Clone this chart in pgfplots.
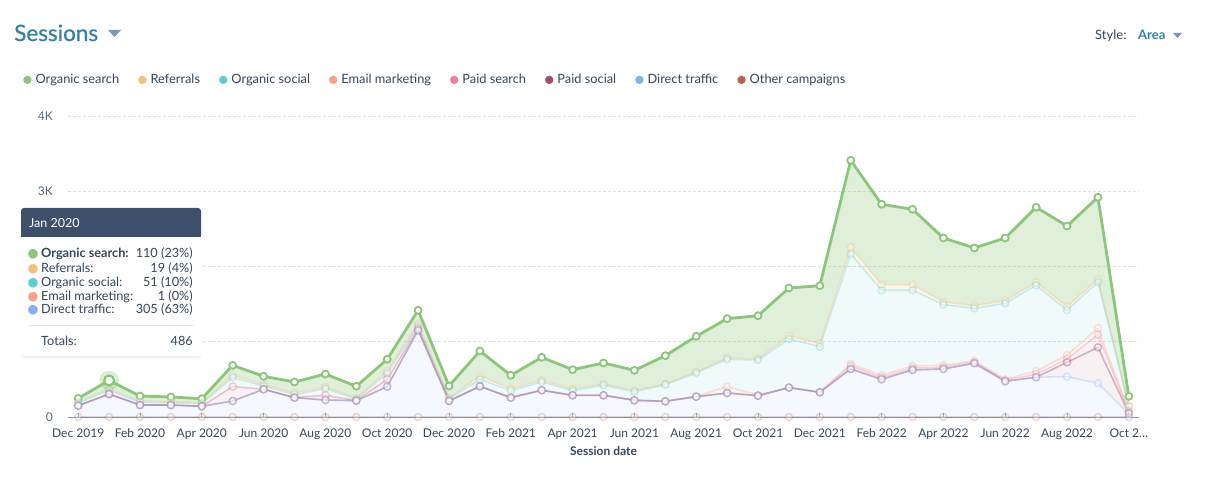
\documentclass[border=0pt]{standalone}
\usepackage{pgfplots}
\pgfplotsset{compat=1.18}
\usepackage{pgfplotstable}
\usepackage{fontspec}
\setmainfont{Lato}
\newfontfamily\dejavu{DejaVu Sans}
\newfontfamily\titlefont[FakeBold=0.6]{Lato}
\usetikzlibrary{shadows}

\definecolor{cOrg}{HTML}{8CC67A}
\definecolor{cRef}{HTML}{F2C27C}
\definecolor{cOSoc}{HTML}{5FCBD3}
\definecolor{cEmail}{HTML}{F4A287}
\definecolor{cPSea}{HTML}{E384A6}
\definecolor{cPSoc}{HTML}{9E4E6E}
\definecolor{cDirect}{HTML}{82B1F6}
\definecolor{cOther}{HTML}{B56551}
\definecolor{cText}{HTML}{33475B}
\definecolor{cTitle}{HTML}{2F81A6}
\definecolor{cAxis}{HTML}{7C98B6}
\definecolor{cGrid}{HTML}{DADFE8}
\definecolor{cHead}{HTML}{3E4F6B}

\pgfplotstableread{
x other direct psoc psea email osoc ref org
0  0 150 0 0 1 34 12 51
1  0 305 0 0 1 51 19 110
2  0 159 0 0 1 35 15 69
3  0 159 0 0 1 30 15 61
4  0 142 0 0 1 32 15 53
5  0 213 0 190 2 122 31 129
6  0 368 0 0 2 40 20 111
7  0 257 0 0 3 40 20 145
8  0 226 0 62 2 86 24 171
9  0 217 0 0 3 20 15 153
10 0 403 0 98 2 78 29 157
11 0 1152 0 27 2 34 25 178
12 0 213 0 0 2 25 15 157
13 0 408 0 0 2 91 44 332
14 0 257 0 0 3 90 25 179
15 0 355 0 0 3 107 25 303
16 0 288 0 0 2 60 20 259
17 0 288 0 0 2 131 19 278
18 0 222 0 0 2 112 14 270
19 0 209 0 0 2 218 11 375
20 0 270 0 0 5 310 15 472
21 0 319 0 0 84 364 18 522
22 0 283 0 0 7 467 18 571
23 0 390 0 0 5 642 40 637
24 0 328 0 0 4 602 45 766
25 0 638 0 42 24 1462 89 1156
26 0 501 0 25 28 1130 74 1069
27 0 625 0 25 28 1006 74 1002
28 0 638 0 25 24 806 35 851
29 0 714 0 17 17 696 35 767
30 0 474 0 14 13 1010 35 833
31 0 528 0 40 43 1139 40 997
32 0 536 191 44 53 594 48 1072
33 0 448 478 168 85 615 36 1090
34 0 40 10 20 14 53 13 125
}\data

\pgfplotsset{
  base/.style={
    at={(68pt,60pt)}, anchor=south west,
    scale only axis, width=1071pt, height=301pt,
    xmin=-0.33, xmax=34.33, ymin=0, ymax=4000,
  },
  lns/.style={mark=*, mark size=3.5pt, line width=1.6pt,
    mark options={fill=white, line width=1.5pt, solid}},
}

\begin{document}
\begin{tikzpicture}
\path[use as bounding box] (0,0) rectangle (1218pt,477pt);

% ---------- areas, axes, legend ----------
\begin{axis}[base,
  stack plots=y,
  axis x line*=bottom, axis y line*=left,
  y axis line style={draw=none},
  x axis line style={cAxis, line width=1pt},
  xtick={0,2,...,34},
  xticklabels={Dec 2019,Feb 2020,Apr 2020,Jun 2020,Aug 2020,Oct 2020,Dec 2020,Feb 2021,Apr 2021,Jun 2021,Aug 2021,Oct 2021,Dec 2021,Feb 2022,Apr 2022,Jun 2022,Aug 2022,Oct 2…},
  ytick={0,1000,2000,3000,4000},
  yticklabels={0,,,3K,4K},
  /pgf/number format/assume math mode=true,
  tick align=inside,
  major tick length=4pt,
  xtick style={cAxis, line width=0.8pt},
  ytick style={draw=none},
  ymajorgrids,
  major grid style={cGrid, dash pattern=on 3pt off 2pt, line width=0.8pt},
  xticklabel style={font=\fontsize{12}{14}\selectfont, text=cText, inner sep=0pt, anchor=base, yshift=-20.5pt},
  yticklabel style={font=\fontsize{12}{14}\selectfont, text=cAxis!70!black, inner sep=0pt, anchor=east, xshift=-15pt},
  xlabel={\bfseries Session date},
  xlabel style={font=\fontsize{12}{14}\selectfont, text=cText, at={(axis description cs:0.5,0)}, anchor=base, inner sep=0pt, yshift=-38.5pt},
  legend image code/.code={\fill[#1] (4pt,0pt) circle (4.2pt);},
  legend style={draw=none, fill=none, legend columns=-1, at={(-0.042,1.12)}, anchor=west,
    inner sep=0pt, row sep=0pt,
    nodes={inner sep=0pt, text=cText, font=\fontsize{12.8}{15}\selectfont},
    /tikz/every odd column/.append style={column sep=4pt},
    /tikz/every even column/.append style={column sep=19pt}},
]
\addlegendimage{draw=none, fill=cOrg}\addlegendentry{Organic search}
\addlegendimage{draw=none, fill=cRef}\addlegendentry{Referrals}
\addlegendimage{draw=none, fill=cOSoc}\addlegendentry{Organic social}
\addlegendimage{draw=none, fill=cEmail}\addlegendentry{Email marketing}
\addlegendimage{draw=none, fill=cPSea}\addlegendentry{Paid search}
\addlegendimage{draw=none, fill=cPSoc}\addlegendentry{Paid social}
\addlegendimage{draw=none, fill=cDirect}\addlegendentry{Direct traffic}
\addlegendimage{draw=none, fill=cOther}\addlegendentry{Other campaigns}

\addplot[draw=none, fill=cDirect, fill opacity=0.08, forget plot] table[x=x,y=direct]{\data} \closedcycle;
\addplot[draw=none, fill=cPSoc, fill opacity=0.08, forget plot] table[x=x,y=psoc]{\data} \closedcycle;
\addplot[draw=none, fill=cPSea, fill opacity=0.10, forget plot] table[x=x,y=psea]{\data} \closedcycle;
\addplot[draw=none, fill=cEmail, fill opacity=0.10, forget plot] table[x=x,y=email]{\data} \closedcycle;
\addplot[draw=none, fill=cOSoc, fill opacity=0.09, forget plot] table[x=x,y=osoc]{\data} \closedcycle;
\addplot[draw=none, fill=cRef, fill opacity=0.15, forget plot] table[x=x,y=ref]{\data} \closedcycle;
\addplot[draw=none, fill=cOrg, fill opacity=0.28, forget plot] table[x=x,y=org]{\data} \closedcycle;
\end{axis}

% ---------- lines and markers ----------
\begin{axis}[base, stack plots=y, hide axis, clip=false]
\addplot[lns, cOther, opacity=0.25] table[x=x,y=other]{\data};
\addplot[lns, cDirect, opacity=0.3] table[x=x,y=direct]{\data};
\addplot[lns, cPSoc, opacity=0.4] table[x=x,y=psoc]{\data};
\addplot[lns, cPSea, opacity=0.3] table[x=x,y=psea]{\data};
\addplot[lns, cEmail, opacity=0.3] table[x=x,y=email]{\data};
\addplot[lns, cOSoc, opacity=0.3] table[x=x,y=osoc]{\data};
\addplot[lns, cRef, opacity=0.35] table[x=x,y=ref]{\data};
\addplot[lns, cOrg, line width=2.8pt, mark options={fill=white, line width=1.8pt, solid}] table[x=x,y=org]{\data};
\end{axis}

% ---------- hovered point ----------
\begin{axis}[base, hide axis, clip=false]
\addplot[only marks, mark=*, mark size=9.5pt, cOrg, opacity=0.3, mark options={draw=none}] coordinates {(1,486)};
\addplot[only marks, mark=*, mark size=5pt, cOrg, mark options={fill=white, line width=2.2pt}] coordinates {(1,486)};
\end{axis}

% ---------- header ----------
\node[anchor=base west, inner sep=0pt, text=cTitle, font=\titlefont\fontsize{22.5}{26}\selectfont] at (14pt,436pt) {Sessions};
\fill[cAxis] (108pt,447pt) -- (121pt,447pt) -- (114.5pt,440pt) -- cycle;
\node[anchor=base west, inner sep=0pt, text=cText, font=\fontsize{13}{15}\selectfont] at (1095pt,437.5pt) {Style:};
\node[anchor=base west, inner sep=0pt, text=cTitle, font=\bfseries\fontsize{13}{15}\selectfont] at (1138pt,437.5pt) {Area};
\fill[cAxis] (1173pt,444pt) -- (1182pt,444pt) -- (1177.5pt,439pt) -- cycle;

% ---------- tooltip ----------
\fill[white, rounded corners=3pt, drop shadow={shadow xshift=0pt, shadow yshift=-2pt, opacity=0.12}] (21pt,121pt) rectangle (201pt,269pt);
\fill[cHead, rounded corners=3pt] (21pt,240pt) rectangle (201pt,269pt);
\fill[cHead] (21pt,240pt) rectangle (201pt,248pt);
\node[anchor=base west, inner sep=0pt, text=white, font=\fontsize{12.5}{14}\selectfont] at (29pt,249pt) {Jan 2020};
\begin{scope}[every node/.style={inner sep=0pt, text=cText, font=\fontsize{12.7}{14}\selectfont}]
\foreach \c/\lab/\val/\yy in {cOrg/{\bfseries Organic search:}/{110 (23\%)}/219.2,
                                cRef/{Referrals:}/{19 (4\%)}/204.5,
                                cOSoc/{Organic social:}/{51 (10\%)}/190.8,
                                cEmail/{Email marketing:}/{1 (0\%)}/176.5,
                                cDirect/{Direct traffic:}/{305 (63\%)}/163.2}{
  \node[anchor=base, text=\c, font=\dejavu\fontsize{12.5}{13}\selectfont] at (33pt,\yy pt) {●};
  \node[anchor=base west] at (41pt,\yy pt) {\lab};
  \node[anchor=base east] at (193pt,\yy pt) {\val};
}
\draw[cGrid, line width=0.8pt] (29pt,152pt) -- (193pt,152pt);
\node[anchor=base west] at (41pt,131.5pt) {Totals:};
\node[anchor=base east] at (193pt,131.5pt) {486};
\end{scope}
\end{tikzpicture}
\end{document}
